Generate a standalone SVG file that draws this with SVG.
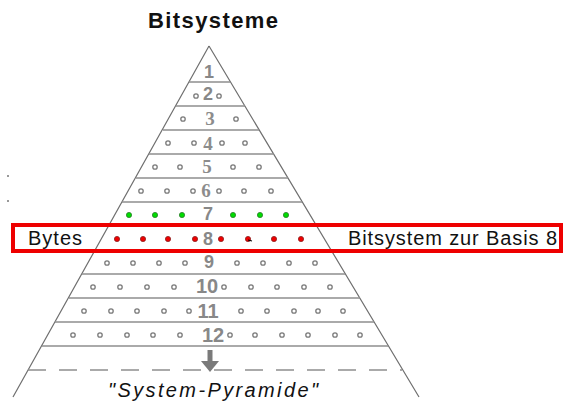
<svg xmlns="http://www.w3.org/2000/svg" width="564" height="403" viewBox="0 0 564 403">
<style>
.edge{stroke:#6f6f6f;stroke-width:1.2;fill:none}
.hl{stroke:#8e8e8e;stroke-width:1.6}
.dash{stroke:#8e8e8e;stroke-width:1.6;stroke-dasharray:18 13}
.o{fill:#fff;stroke:#7a7a7a;stroke-width:1.3}
.g{fill:#00dd00;stroke:#2a7a2a;stroke-width:0.8}
.r{fill:#ee0000;stroke:#8a2020;stroke-width:0.8}
.ns{font-family:"Liberation Sans",Arial,sans-serif;font-weight:bold;font-size:18px;fill:#888;text-anchor:middle}
.nb{font-family:"Liberation Sans",Arial,sans-serif;font-weight:bold;font-size:20px;fill:#888;text-anchor:middle}
.nf{font-family:"Liberation Serif","Times New Roman",serif;font-weight:bold;font-size:19px;fill:#8c8c8c;text-anchor:middle}
.lbl{font-family:"Liberation Sans",Arial,sans-serif;font-size:20px;fill:#111}
</style>
<rect width="564" height="403" fill="#fff"/>
<g id="title"><text x="148" y="28" font-family="Liberation Sans,Arial,sans-serif" font-weight="bold" font-size="22" fill="#111" textLength="130" lengthAdjust="spacing">Bitsysteme</text></g>
<g id="connectors">
<path class="edge" d="M209 46 L13 397 M209 46 L419 397"/>
<path class="hl" d="M189 82H230 M176 106H245 M163 130H259 M149 154H274 M136 178H288 M122 202H302 M82 274H345 M69 298H360 M55 322H374 M42 346H388"/>
<path class="dash" d="M28 370H402"/>
<path d="M210 350V362" stroke="#7a7a7a" stroke-width="5"/>
<path d="M201 361H219L210 372Z" fill="#7a7a7a"/>
</g>
<g id="tier1"><text class="ns" x="209" y="78">1</text></g>
<g id="tier2"><text class="ns" x="208" y="100" font-weight="normal">2</text><circle class="o" cx="196" cy="96" r="2.2"/><circle class="o" cx="219" cy="96" r="2.2"/></g>
<g id="tier3"><text class="nf" x="210" y="125">3</text><circle class="o" cx="183" cy="119" r="2.2"/><circle class="o" cx="236" cy="119" r="2.2"/></g>
<g id="tier4"><text class="nf" x="208" y="150">4</text><circle class="o" cx="168" cy="143" r="2.2"/><circle class="o" cx="194" cy="143" r="2.2"/><circle class="o" cx="222" cy="143" r="2.2"/><circle class="o" cx="245" cy="143" r="2.2"/></g>
<g id="tier5"><text class="nf" x="207" y="173">5</text><circle class="o" cx="155" cy="167" r="2.2"/><circle class="o" cx="180" cy="167" r="2.2"/><circle class="o" cx="233" cy="167" r="2.2"/><circle class="o" cx="259" cy="167" r="2.2"/></g>
<g id="tier6"><text class="nf" x="206" y="197">6</text><circle class="o" cx="141" cy="191" r="2.2"/><circle class="o" cx="167" cy="191" r="2.2"/><circle class="o" cx="193" cy="191" r="2.2"/><circle class="o" cx="219" cy="191" r="2.2"/><circle class="o" cx="244" cy="191" r="2.2"/><circle class="o" cx="271" cy="191" r="2.2"/></g>
<g id="tier7"><text class="ns" x="208" y="220" font-weight="normal">7</text><circle class="g" cx="129" cy="215" r="2.6"/><circle class="g" cx="155" cy="215" r="2.6"/><circle class="g" cx="182" cy="215" r="2.6"/><circle class="g" cx="233" cy="215" r="2.6"/><circle class="g" cx="260" cy="215" r="2.6"/><circle class="g" cx="286" cy="215" r="2.6"/></g>
<g id="tier8"><text class="ns" x="208" y="245" font-weight="normal">8</text><circle class="r" cx="117" cy="239" r="2.6"/><circle class="r" cx="143" cy="239" r="2.6"/><circle class="r" cx="168" cy="239" r="2.6"/><circle class="r" cx="195" cy="239" r="2.6"/><circle class="r" cx="221" cy="239" r="2.6"/><circle class="r" cx="248" cy="239" r="2.6"/><path d="M248 240L252 241" stroke="#000" stroke-width="1.2"/><circle class="r" cx="274" cy="239" r="2.6"/><circle class="r" cx="301" cy="239" r="2.6"/></g>
<g id="tier9"><text class="ns" x="209" y="268">9</text><circle class="o" cx="107" cy="263" r="2.2"/><circle class="o" cx="133" cy="263" r="2.2"/><circle class="o" cx="159" cy="263" r="2.2"/><circle class="o" cx="185" cy="263" r="2.2"/><circle class="o" cx="237" cy="263" r="2.2"/><circle class="o" cx="263" cy="263" r="2.2"/><circle class="o" cx="289" cy="263" r="2.2"/><circle class="o" cx="315" cy="263" r="2.2"/></g>
<g id="tier10"><text class="nb" x="207" y="293">10</text><circle class="o" cx="93" cy="287" r="2.2"/><circle class="o" cx="120" cy="287" r="2.2"/><circle class="o" cx="147" cy="287" r="2.2"/><circle class="o" cx="174" cy="287" r="2.2"/><circle class="o" cx="224" cy="287" r="2.2"/><circle class="o" cx="251" cy="287" r="2.2"/><circle class="o" cx="277" cy="287" r="2.2"/><circle class="o" cx="304" cy="287" r="2.2"/><circle class="o" cx="330" cy="287" r="2.2"/></g>
<g id="tier11"><text class="nb" x="208" y="318">11</text><circle class="o" cx="84" cy="311" r="2.2"/><circle class="o" cx="111" cy="311" r="2.2"/><circle class="o" cx="137" cy="311" r="2.2"/><circle class="o" cx="164" cy="311" r="2.2"/><circle class="o" cx="189" cy="311" r="2.2"/><circle class="o" cx="241" cy="311" r="2.2"/><circle class="o" cx="267" cy="311" r="2.2"/><circle class="o" cx="294" cy="311" r="2.2"/><circle class="o" cx="318" cy="311" r="2.2"/><circle class="o" cx="343" cy="311" r="2.2"/></g>
<g id="tier12"><text class="nb" x="213" y="342">12</text><circle class="o" cx="73" cy="335" r="2.2"/><circle class="o" cx="100" cy="335" r="2.2"/><circle class="o" cx="127" cy="335" r="2.2"/><circle class="o" cx="153" cy="335" r="2.2"/><circle class="o" cx="180" cy="335" r="2.2"/><circle class="o" cx="230" cy="335" r="2.2"/><circle class="o" cx="255" cy="335" r="2.2"/><circle class="o" cx="282" cy="335" r="2.2"/><circle class="o" cx="308" cy="335" r="2.2"/><circle class="o" cx="335" cy="335" r="2.2"/><circle class="o" cx="360" cy="335" r="2.2"/></g>
<g id="bytes-box"><rect x="13" y="225" width="548" height="26" fill="none" stroke="#ee0000" stroke-width="4"/><text class="lbl" x="28" y="245" textLength="54" lengthAdjust="spacing">Bytes</text><text class="lbl" x="348" y="245" font-size="21" textLength="209" lengthAdjust="spacing">Bitsystem zur Basis 8</text></g>
<g id="caption"><text class="lbl" x="108" y="397" font-style="italic" font-size="22.5" textLength="210" lengthAdjust="spacing">"System-Pyramide"</text></g>
<g id="specks"><rect x="7" y="175" width="2" height="2" fill="#999"/><rect x="7" y="200" width="2" height="2" fill="#999"/></g>
</svg>
